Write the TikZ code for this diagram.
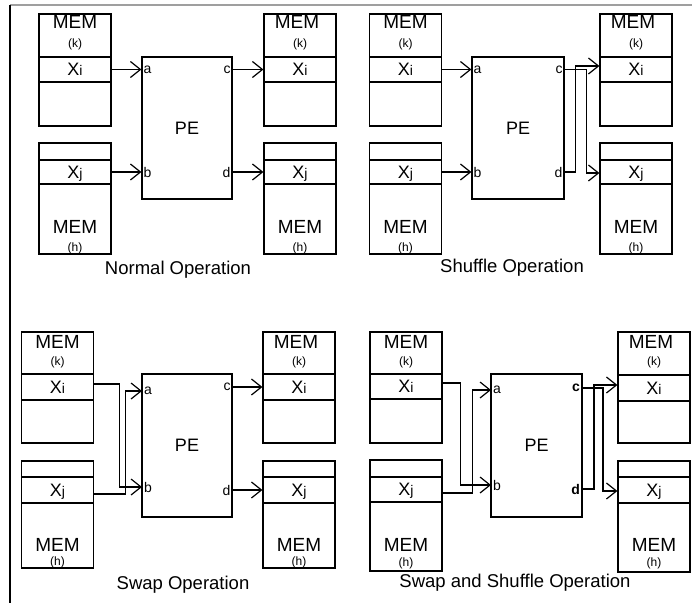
\documentclass[tikz,border=0pt]{standalone}
\usepackage{fontspec}
\setmainfont{Liberation Sans}
\usepackage{tikz}
\usetikzlibrary{positioning, arrows.meta, calc}

\newcommand{\xsub}[1]{{\fontsize{18}{18}\selectfont X}{\fontsize{14}{14}\selectfont #1}}

\begin{document}
\begin{tikzpicture}[
    x=1pt, y=-1pt,
    line width=1.2pt,
    stack/.style={draw, rectangle, minimum width=72pt, inner sep=0pt},
    row/.style={draw, rectangle, minimum width=72pt, inner sep=0pt, text depth=0pt},
    pe/.style={draw, rectangle, minimum width=90pt, minimum height=142pt, inner sep=0pt, font=\fontsize{18}{18}\selectfont},
    memtext/.style={inner sep=0pt, font=\fontsize{19}{19}\selectfont},
    subtext/.style={inner sep=0pt, font=\fontsize{12}{12}\selectfont},
    port/.style={inner sep=1.5pt, font=\fontsize{14}{14}\selectfont},
    caption/.style={inner sep=0pt, font=\fontsize{18.5}{18.5}\selectfont},
    arr/.style={-{Straight Barb[length=10pt,width=16pt]}}
]
    \useasboundingbox (0,0) rectangle (692,603);

    % ================= FRAME =================
    \draw[gray!75] (10,5) -- (692,5);
    \draw (10,5) -- (10,603);

    % ================= NORMAL OPERATION =================
    \node[stack, minimum height=112pt] (memkN) at (75,70) {};
    \node[row, minimum height=25pt] (xiN) at (75,69.5) {\xsub{i}};
    \node[memtext] (mkN) at (75,22) {MEM};
    \node[subtext] (kN) at (75,44) {(k)};
    \node[stack, minimum height=111pt] (memhN) at (75,198.5) {};
    \node[row, minimum height=24pt] (xjN) at (75,172) {\xsub{j}};
    \node[memtext] (mhN) at (75,227) {MEM};
    \node[subtext] (hN) at (75,248) {(h)};

    \node[pe] (peN) at (187,128) {PE};
    \node[port, anchor=west] (aN) at (peN.west |- xiN) {a};
    \node[port, anchor=west] (bN) at (peN.west |- xjN) {b};
    \node[port, anchor=east] (cN) at (peN.east |- xiN) {c};
    \node[port, anchor=east] (dN) at (peN.east |- xjN) {d};

    \node[stack, minimum height=112pt] (memkNo) at (300,70) {};
    \node[row, minimum height=25pt] (xiNo) at (300,69.5) {\xsub{i}};
    \node[memtext] (mkNo) at (297,22) {MEM};
    \node[subtext] (kNo) at (300,44) {(k)};
    \node[stack, minimum height=111pt] (memhNo) at (300,198.5) {};
    \node[row, minimum height=24pt] (xjNo) at (300,172) {\xsub{j}};
    \node[memtext] (mhNo) at (300,227) {MEM};
    \node[subtext] (hNo) at (300,248) {(h)};

    \draw[arr] (xiN.east) -- (aN.west);
    \draw[arr] (xjN.east) -- (bN.west);
    \draw[arr] (cN.east) -- (xiNo.west);
    \draw[arr] (dN.east) -- (xjNo.west);

    \node[caption] (tN) at (178,270) {Normal Operation};

    % ================= SHUFFLE OPERATION =================
    \node[stack, minimum height=112pt] (memkS) at (405.5,70) {};
    \node[row, minimum height=25pt] (xiS) at (405.5,69.5) {\xsub{i}};
    \node[memtext] (mkS) at (405.5,22) {MEM};
    \node[subtext] (kS) at (405.5,44) {(k)};
    \node[stack, minimum height=111pt] (memhS) at (405.5,198.5) {};
    \node[row, minimum height=24pt] (xjS) at (405.5,172) {\xsub{j}};
    \node[memtext] (mhS) at (405.5,227) {MEM};
    \node[subtext] (hS) at (405.5,248) {(h)};

    \node[pe, minimum width=92pt] (peS) at (518,128) {PE};
    \node[port, anchor=west] (aS) at (peS.west |- xiS) {a};
    \node[port, anchor=west] (bS) at (peS.west |- xjS) {b};
    \node[port, anchor=east] (cS) at (peS.east |- xiS) {c};
    \node[port, anchor=east] (dS) at (peS.east |- xjS) {d};

    \node[stack, minimum height=112pt] (memkSo) at (636,70) {};
    \node[row, minimum height=25pt] (xiSo) at (636,69.5) {\xsub{i}};
    \node[memtext] (mkSo) at (633,22) {MEM};
    \node[subtext] (kSo) at (636,44) {(k)};
    \node[stack, minimum height=111pt] (memhSo) at (636,198.5) {};
    \node[row, minimum height=24pt] (xjSo) at (636,172) {\xsub{j}};
    \node[memtext] (mhSo) at (636,227) {MEM};
    \node[subtext] (hSo) at (636,248) {(h)};

    \draw[arr] (xiS.east) -- (aS.west);
    \draw[arr] (xjS.east) -- (bS.west);
    \draw[arr] (dS.east) -- ++(11,0) |- ([yshift=3.5pt]xiSo.west);
    \draw[arr] (cS.east) -- ++(22,0) |- ([yshift=-1pt]xjSo.west);

    \node[caption] (tS) at (512,268) {Shuffle Operation};

    % ================= SWAP OPERATION =================
    \node[stack, minimum height=111pt] (memkW) at (57.5,387.5) {};
    \node[row, minimum height=26pt] (xiW) at (57.5,387) {\xsub{i}};
    \node[memtext] (mkW) at (57.5,342) {MEM};
    \node[subtext] (kW) at (57.5,362) {(k)};
    \node[stack, minimum height=107pt] (memhW) at (57.5,514.5) {};
    \node[row, minimum height=26pt] (xjW) at (57.5,490) {\xsub{j}};
    \node[memtext] (mhW) at (57.5,545) {MEM};
    \node[subtext] (hW) at (57.5,562) {(h)};

    \node[pe, minimum height=143pt] (peW) at (187,445.5) {PE};
    \node[port, anchor=west] (aW) at (142,391) {a};
    \node[port, anchor=west] (bW) at (142,487) {b};
    \node[port, anchor=east] (cW) at (peW.east |- xiW) {c};
    \node[port, anchor=east] (dW) at (peW.east |- xjW) {d};

    \node[stack, minimum height=111pt] (memkWo) at (299,387.5) {};
    \node[row, minimum height=26pt] (xiWo) at (299,387) {\xsub{i}};
    \node[memtext] (mkWo) at (296,342) {MEM};
    \node[subtext] (kWo) at (299,362) {(k)};
    \node[stack, minimum height=107pt] (memhWo) at (299,514.5) {};
    \node[row, minimum height=26pt] (xjWo) at (299,490) {\xsub{j}};
    \node[memtext] (mhWo) at (299,545) {MEM};
    \node[subtext] (hWo) at (299,562) {(h)};

    \draw[arr] ([yshift=3pt]xiW.east) -- ++(25,0) |- (bW.west);
    \draw[arr] ([yshift=-4pt]xjW.east) -- ++(31,0) |- (aW.west);
    \draw[arr] (cW.east) -- (xiWo.west);
    \draw[arr] (dW.east) -- (xjWo.west);

    \node[caption] (tW) at (183,585) {Swap Operation};

    % ================= SWAP AND SHUFFLE OPERATION =================
    \node[stack, minimum height=111pt] (memkB) at (406,387.5) {};
    \node[row, minimum height=25pt] (xiB) at (406,386.5) {\xsub{i}};
    \node[memtext] (mkB) at (406,342) {MEM};
    \node[subtext] (kB) at (406,362) {(k)};
    \node[stack, minimum height=111pt] (memhB) at (406,515.5) {};
    \node[row, minimum height=25pt] (xjB) at (406,489.5) {\xsub{j}};
    \node[memtext] (mhB) at (406,545) {MEM};
    \node[subtext] (hB) at (406,563) {(h)};

    \node[pe, minimum width=91pt, minimum height=143pt] (peB) at (536.5,445.5) {PE};
    \node[port, anchor=west] (aB) at (491,390) {a};
    \node[port, anchor=west] (bB) at (491,485) {b};
    \node[port, anchor=east, font=\fontsize{14}{14}\selectfont\bfseries] (cB) at (582,388) {c};
    \node[port, anchor=east, font=\fontsize{14}{14}\selectfont\bfseries] (dB) at (582,489) {d};

    \node[stack, minimum height=111pt] (memkBo) at (654,387.5) {};
    \node[row, minimum height=26pt] (xiBo) at (654,388) {\xsub{i}};
    \node[memtext] (mkBo) at (651,342) {MEM};
    \node[subtext] (kBo) at (654,362) {(k)};
    \node[stack, minimum height=111pt] (memhBo) at (654,516.5) {};
    \node[row, minimum height=26pt] (xjBo) at (654,490) {\xsub{j}};
    \node[memtext] (mhBo) at (654,545) {MEM};
    \node[subtext] (hBo) at (654,563) {(h)};

    \draw[arr] ([yshift=3.5pt]xiB.east) -- ++(18,0) |- (bB.west);
    \draw[arr] ([yshift=-3.5pt]xjB.east) -- ++(30,0) |- (aB.west);
    \draw[arr] (cB.east) -- ++(21,0) |- ([yshift=-1pt]xjBo.west);
    \draw[arr] (dB.east) -- ++(12,0) |- ([yshift=3pt]xiBo.west);

    \node[caption] (tB) at (515,583) {Swap and Shuffle Operation};

\end{tikzpicture}
\end{document}
